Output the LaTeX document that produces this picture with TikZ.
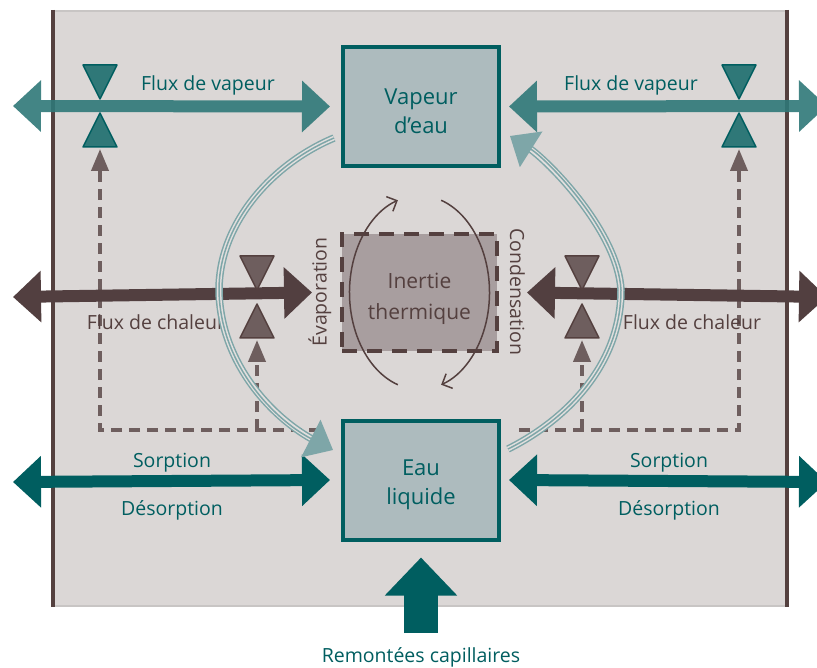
\documentclass[tikz,border=0pt]{standalone}
\usepackage{fontspec}
\setmainfont{Open Sans}
\usetikzlibrary{arrows.meta}

\definecolor{fondgris}{HTML}{DBD7D6}
\definecolor{bordgris}{HTML}{C8C5C4}
\definecolor{brun}{HTML}{54403F}
\definecolor{brunflux}{HTML}{523F40}
\definecolor{brunclair}{HTML}{6E5E5E}
\definecolor{sarcelle}{HTML}{005E60}
\definecolor{vapeurc}{HTML}{2F7878}
\definecolor{cboite}{HTML}{ADBBBE}
\definecolor{cinertie}{HTML}{A89E9F}
\definecolor{courbe}{HTML}{7EA6A8}
\definecolor{filet}{HTML}{E2DFDE}

\tikzset{
  flux/.style={line width=12pt,{Triangle[length=28pt,width=50pt]}-{Triangle[length=28pt,width=50pt]}},
  boite/.style={draw=sarcelle,line width=4pt,fill=cboite,minimum width=156pt,minimum height=119pt,
    inner sep=0pt,outer sep=0pt,align=center,text=sarcelle,font=\fontsize{22}{29}\selectfont},
  inerte/.style={draw=brun,line width=4pt,dash pattern=on 15pt off 10pt,fill=cinertie,
    minimum width=155pt,minimum height=117pt,inner sep=0pt,outer sep=0pt,align=center,
    text=brun,font=\fontsize{21}{31}\selectfont},
  libelle/.style={font=\fontsize{19.5}{23}\selectfont,anchor=base,inner sep=0pt},
  pointille/.style={brunclair,line width=4pt,dash pattern=on 11pt off 7pt,-{Triangle[length=22pt,width=17pt]}},
  tuyau/.style={courbe,line width=1.5pt,double=filet,double distance=4.5pt,shorten >=20pt},
  tuyaufleche/.style={courbe,line width=1.5pt,-{Triangle[length=25pt,width=42pt]}},
  tour/.style={brun,line width=1.5pt,-{Straight Barb[length=8pt,width=16pt]}}
}

\begin{document}
\begin{tikzpicture}[x=1pt,y=-1pt]
            \useasboundingbox (0,0) rectangle (817,668);
            \fill[white] (0,0) rectangle (817,668);

            % Paroi
            \fill[fondgris] (52,10) rectangle (788,607);
            \draw[bordgris,line width=2pt] (52,11) -- (788,11) (52,606) -- (788,606);
            \draw[brun,line width=4pt] (53,10) -- (53,607) (787,10) -- (787,607);

            % Boites
            \node[boite] (vap) at (421,106.5) {\rule{0pt}{25pt}Vapeur\\d’eau};
            \node[boite] (eau) at (421,480) {\rule{0pt}{25pt}Eau\\liquide};
            \node[inerte] (inertie) at (419.5,292.5) {\rule{0pt}{28pt}Inertie\\thermique};

            % Vannes et extremites
            \coordinate (vanneHG) at (100,106);
            \coordinate (vanneHD) at (739,106);
            \coordinate (vanneMG) at (257,297);
            \coordinate (vanneMD) at (582,297);
            \coordinate (gH) at (13,106);
            \coordinate (dH) at (827,106);
            \coordinate (gM) at (13,297);
            \coordinate (dM) at (827,297);
            \coordinate (gB) at (13,482);
            \coordinate (dB) at (827,482);
            \coordinate (finG) at (320,430);
            \coordinate (finD) at (519,430);

            % Commande des vannes
            \draw[pointille] (finG) -| ([yshift=-43pt]vanneHG);
            \draw[pointille] (vanneMG |- finG) -- ([yshift=-43pt]vanneMG);
            \draw[pointille] (finD) -| ([yshift=-43pt]vanneHD);
            \draw[pointille] (vanneMD |- finD) -- ([yshift=-43pt]vanneMD);

            % Flux de vapeur
            \begin{scope}[transparency group,opacity=.9]
                \draw[flux,vapeurc] (gH) -- ([xshift=-13pt]vap.west);
                \draw[flux,vapeurc] ([xshift=10pt]vap.east) -- (dH);
            \end{scope}

            % Flux de chaleur
            \draw[flux,brunflux] (gM) -- ([xshift=-30pt]inertie.west);
            \draw[flux,brunflux] ([xshift=30pt]inertie.east) -- (dM);

            % Sorption / desorption
            \draw[flux,sarcelle] (gB) -- ([xshift=-13pt]eau.west);
            \draw[flux,sarcelle] ([xshift=10pt]eau.east) -- (dB);

            % Vannes
            \foreach \v/\cf/\cl in {vanneHG/vapeurc/sarcelle,vanneHD/vapeurc/sarcelle,vanneMG/brunclair/brun,vanneMD/brunclair/brun}
            {
                \draw[fill=\cf,draw=\cl,line width=1.5pt,line join=round]
                    ([shift={(-17,-41)}]\v) -- ++(34,0) -- ++(-17,34) -- cycle
                    ([shift={(-17,41)}]\v) -- ++(34,0) -- ++(-17,-34) -- cycle;
            }

            % Remontees capillaires
            \coordinate (bas) at (421,633);
            \draw[sarcelle,line width=34pt,-{Triangle[length=38pt,width=70pt]}] (bas) -- ([yshift=-18pt]eau.south);
            \node[libelle,text=sarcelle] (remont) at (421,662) {Remontées capillaires};

            % Libelles
            \node[libelle,text=sarcelle] (fvG) at (208,91) {Flux de vapeur};
            \node[libelle,text=sarcelle] (fvD) at (631,91) {Flux de vapeur};
            \node[libelle,text=brun] (fcG) at (156,330) {Flux de chaleur};
            \node[libelle,text=brun] (fcD) at (692,330) {Flux de chaleur};
            \node[libelle,text=sarcelle] (sorG) at (172,467.5) {Sorption};
            \node[libelle,text=sarcelle] (sorD) at (669,467.5) {Sorption};
            \node[libelle,text=sarcelle] (desG) at (172,515.5) {Désorption};
            \node[libelle,text=sarcelle] (desD) at (669,515.5) {Désorption};
            \node[rotate=90,text=brun,font=\fontsize{19.5}{23}\selectfont,inner sep=0pt] (evap) at (320,292) {Évaporation};
            \node[rotate=-90,text=brun,font=\fontsize{19.5}{23}\selectfont,inner sep=0pt] (cond) at (517.5,292) {Condensation};

            % Cycle vapeur / eau
            \coordinate (depG) at (334,138);
            \coordinate (arrG) at (333,450);
            \coordinate (depD) at (508,449);
            \coordinate (arrD) at (510,136);
            \draw[tuyau] (depG) .. controls (270,165) and (219,225) .. (219,290) .. controls (220,365) and (275,420) .. (arrG);
            \draw[tuyaufleche] (depG) .. controls (270,165) and (219,225) .. (219,290) .. controls (220,365) and (275,420) .. (arrG);
            \draw[tuyau] (depD) .. controls (566,420) and (621,365) .. (621,290) .. controls (618,232) and (548,160) .. (arrD);
            \draw[tuyaufleche] (depD) .. controls (566,420) and (621,365) .. (621,290) .. controls (618,232) and (548,160) .. (arrD);

            % Evaporation / condensation
            \draw[tour] (inertie.center) ++(108:70 and 97) arc[start angle=108,end angle=252,x radius=70,y radius=97];
            \draw[tour] (inertie.center) ++(-72:70 and 97) arc[start angle=-72,end angle=72,x radius=70,y radius=97];
        \end{tikzpicture}
\end{document}
